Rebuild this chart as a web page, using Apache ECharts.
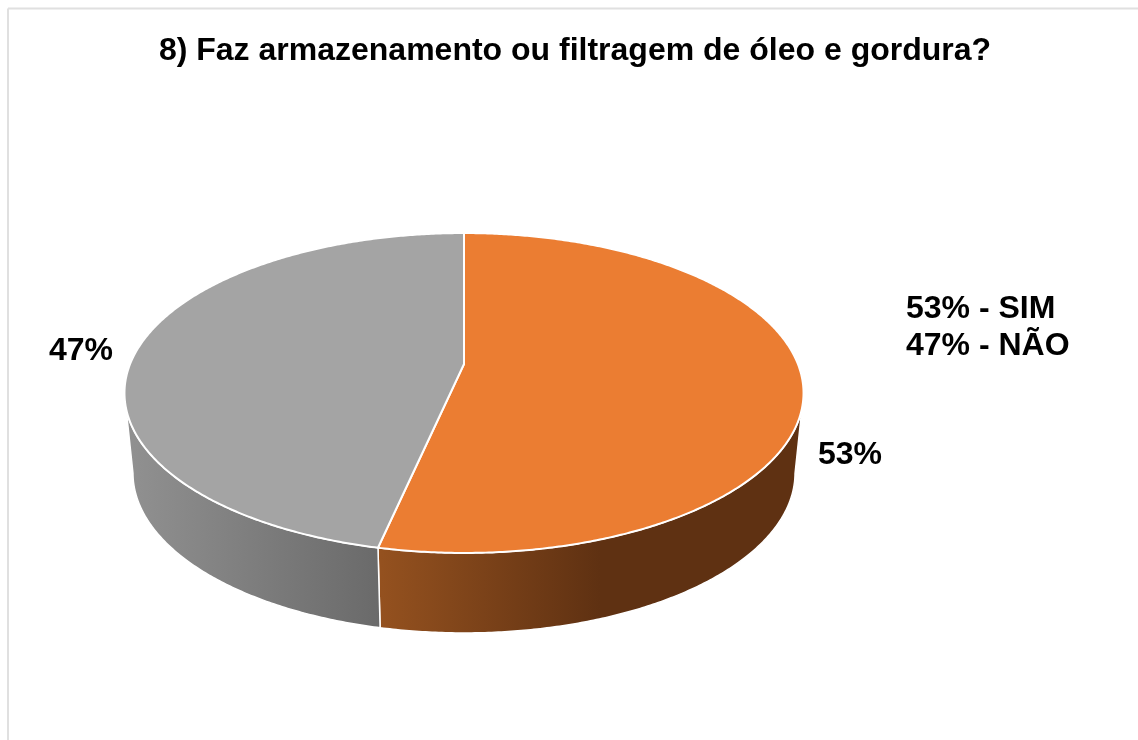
<!DOCTYPE html>
<html>
<head>
<meta charset="utf-8">
<title>Faz armazenamento ou filtragem de óleo e gordura?</title>
<script src="https://cdn.jsdelivr.net/npm/echarts@6/dist/echarts.min.js"></script>
<style>
  html, body { margin: 0; padding: 0; background: #fff; }
  #main { width: 1138px; height: 740px; }
</style>
</head>
<body>
<div id="main"></div>
<script>
var titleText = '8) Faz armazenamento ou filtragem de óleo e gordura?';
var categories = ['SIM', 'NÃO'];
var values = [53.4, 46.6];

var fontFamily = '"Liberation Sans", Arial, sans-serif';
var topColors = ['#EB7D32', '#A4A4A4'];
// side wall shading, runs left to right across each slice
var wallStops = [
  { x0: 381, x1: 600, from: '#94511F', to: '#5F3112' },
  { x0: 133, x1: 380, from: '#909090', to: '#6A6A6A' }
];
var labelPos = [[850, 455], [81, 351]];

// tilted disc: vertex of the pie and perspective of the top face
var cx = 464, cy = 364, ellipseMidY = 393;
var radiusX = 333.9, radiusY = 154.7, persp = -0.18125;
var wallDepth = 80, wallShrink = 0.975;

var total = values.reduce(function (a, b) { return a + b; }, 0);

function percent(v) {
  return Math.round(v / total * 100) + '%';
}

function project(angle) {
  var x = Math.sin(angle), y = -Math.cos(angle);
  var d = 1 + persp * y;
  return [cx + radiusX * x / d, cy + radiusY * y / d];
}

function arcPoints(start, end) {
  var steps = Math.ceil((end - start) * 120);
  var pts = [];
  for (var i = 0; i <= steps; i++) {
    pts.push(project(start + (end - start) * i / steps));
  }
  return pts;
}

function renderSlice(params, api) {
  var i = params.dataIndex;
  var before = 0;
  for (var j = 0; j < i; j++) before += values[j];
  var start = before / total * Math.PI * 2;
  var end = (before + api.value(0)) / total * Math.PI * 2;

  var arc = arcPoints(start, end);
  var front = arc.filter(function (p) { return p[1] >= ellipseMidY; });
  var under = front.map(function (p) {
    return [cx + (p[0] - cx) * wallShrink, p[1] + wallDepth];
  }).reverse();

  var w = wallStops[i];
  return {
    type: 'group',
    children: [
      {
        type: 'polygon',
        z2: 1,
        shape: { points: front.concat(under) },
        style: {
          fill: new echarts.graphic.LinearGradient(w.x0, 0, w.x1, 0, [
            { offset: 0, color: w.from },
            { offset: 1, color: w.to }
          ], true),
          stroke: '#fff',
          lineWidth: 1.5
        }
      },
      {
        type: 'polygon',
        z2: 2,
        shape: { points: [[cx, cy]].concat(arc) },
        style: { fill: topColors[i], stroke: '#fff', lineWidth: 2, lineJoin: 'round' }
      },
      {
        type: 'text',
        z2: 3,
        style: {
          text: percent(api.value(0)),
          x: labelPos[i][0],
          y: labelPos[i][1],
          align: 'center',
          verticalAlign: 'middle',
          fill: '#000',
          font: 'bold 32px ' + fontFamily
        }
      }
    ]
  };
}

var myChart = echarts.init(document.getElementById('main'), null, { renderer: 'canvas' });

var option = {
  animation: false,
  backgroundColor: '#fff',
  title: [
    {
      text: titleText,
      left: 570,
      top: 30,
      textAlign: 'center',
      textStyle: { color: '#000', fontFamily: fontFamily, fontWeight: 'bold', fontSize: 32 }
    },
    {
      text: categories.map(function (c, i) { return percent(values[i]) + ' - ' + c; }).join('\n'),
      left: 901,
      top: 286,
      textStyle: { color: '#000', fontFamily: fontFamily, fontWeight: 'bold', fontSize: 32, lineHeight: 37 }
    }
  ],
  graphic: [
    { type: 'line', silent: true, shape: { x1: 8, y1: 8.5, x2: 8, y2: 740 }, style: { stroke: '#E0E0E0', lineWidth: 2 } },
    { type: 'line', silent: true, shape: { x1: 8, y1: 8.5, x2: 1138, y2: 8.5 }, style: { stroke: '#E0E0E0', lineWidth: 2 } }
  ],
  series: [
    {
      type: 'custom',
      coordinateSystem: 'none',
      renderItem: renderSlice,
      data: values.map(function (v) { return [v]; })
    }
  ]
};

myChart.setOption(option);
</script>
</body>
</html>
